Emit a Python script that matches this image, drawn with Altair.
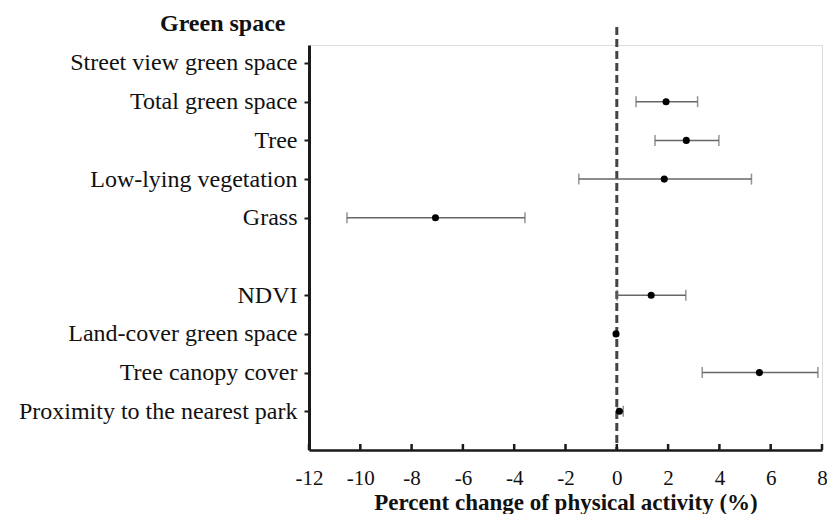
import altair as alt
import pandas as pd

labels = ["Street view green space", "Total green space", "Tree\u00a0", "Low-lying vegetation",
          "Grass", "NDVI", "Land-cover green space", "Tree canopy cover",
          "Proximity to the nearest park"]
rows = [1, 2, 3, 4, 5, 7, 8, 9, 10]
est = [None, 1.92, 2.71, 1.85, -7.07, 1.34, -0.03, 5.56, 0.10]
lo = [None, 0.75, 1.49, -1.48, -10.52, 0.01, None, 3.33, 0.02]
hi = [None, 3.15, 3.98, 5.25, -3.58, 2.69, None, 7.84, 0.25]
x_ticks = list(range(-12, 9, 2))
group_title = "Green space"
x_title = "Percent change of physical activity (%)"

FONT = "Liberation Serif"
W, H = 513, 405
Y_DOM = [0.535, 11.0]

df = pd.DataFrame({"label": labels, "row": rows, "est": est, "lo": lo, "hi": hi})
ci = df.dropna(subset=["lo", "hi"])
pts = df.dropna(subset=["est"])

label_arr = ["''"] * 11
for r, l in zip(rows, labels):
    label_arr[r] = repr(l)
label_expr = "[" + ",".join(label_arr) + "][datum.value]"

xscale = alt.Scale(domain=[-12, 8], nice=False, zero=False)
yscale = alt.Scale(domain=Y_DOM, nice=False, zero=False, reverse=True)

xaxis = alt.Axis(values=x_ticks, labelExpr="'' + datum.value", grid=False, ticks=False,
                 domainWidth=2.5, domainColor="#1a1a1a", labelFont=FONT, labelFontSize=21,
                 labelColor="#111", labelPadding=17, labelFlush=False, labelOverlap=False,
                 title=x_title, titleFont=FONT, titleFontSize=23, titleFontWeight="bold",
                 titleColor="#111", titlePadding=3)
yaxis = alt.Axis(values=rows, labelExpr=label_expr, grid=False, tickSize=5, tickWidth=2,
                 tickColor="#1a1a1a", domainWidth=3, domainColor="#1a1a1a",
                 labelFont=FONT, labelFontSize=24, labelColor="#111", labelPadding=7,
                 labelOverlap=False, labelBound=False, labelLimit=500, title=None)

base = alt.Chart(pts)

axes_layer = base.mark_point(opacity=0).encode(
    x=alt.X("est:Q", scale=xscale, axis=xaxis),
    y=alt.Y("row:Q", scale=yscale, axis=yaxis),
)

zero = alt.Chart(pd.DataFrame({"x": [0], "y1": [0.07], "y2": [Y_DOM[1]]})).mark_rule(
    strokeDash=[8, 4], strokeWidth=3, color="#444"
).encode(x="x:Q", y="y1:Q", y2="y2:Q")

bars = alt.Chart(ci).mark_rule(color="#666", strokeWidth=1.5).encode(
    x="lo:Q", x2="hi:Q", y="row:Q")
cap_lo = alt.Chart(ci).mark_tick(color="#666", thickness=1.5, size=11, orient="vertical").encode(
    x="lo:Q", y="row:Q")
cap_hi = alt.Chart(ci).mark_tick(color="#666", thickness=1.5, size=11, orient="vertical").encode(
    x="hi:Q", y="row:Q")

dots = base.mark_circle(size=50, color="black", opacity=1).encode(x="est:Q", y="row:Q")

xt = alt.Chart(pd.DataFrame({"t": x_ticks})).mark_rule(color="#1a1a1a", strokeWidth=2.5).encode(
    x="t:Q", y=alt.value(H - 6), y2=alt.value(H))

gtitle = alt.Chart(pd.DataFrame({"t": [group_title]})).mark_text(
    font=FONT, fontSize=24, fontWeight="bold", align="right", baseline="alphabetic", color="#111"
).encode(text="t:N", x=alt.value(-23.5), y=alt.value(-14))

chart = alt.layer(axes_layer, zero, bars, cap_lo, cap_hi, dots, xt, gtitle).properties(
    width=W, height=H,
    autosize=alt.AutoSizeParams(type="none"),
    padding={"left": 301, "top": 37, "right": 5, "bottom": 64},
).configure_view(stroke=None, strokeWidth=0, fill=None).configure(background="white")

chart.save("out.html", embed_options={"renderer": "svg", "actions": False})
